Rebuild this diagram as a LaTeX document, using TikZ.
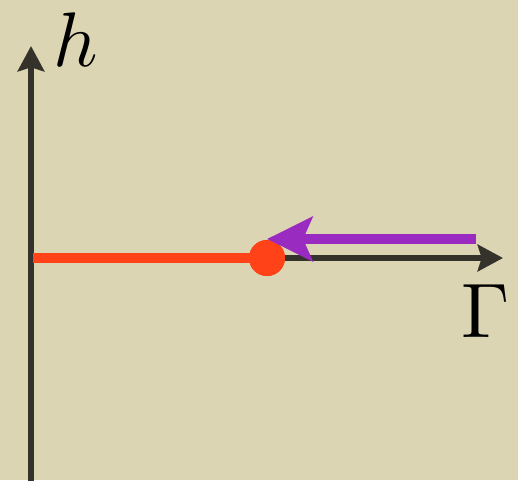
\documentclass[tikz,border=0pt]{standalone}
\usetikzlibrary{arrows.meta}
\definecolor{parchment}{HTML}{DCD5B3}
\definecolor{axisgrey}{HTML}{35322B}
\definecolor{flowred}{HTML}{FF4217}
\definecolor{flowpurple}{HTML}{9A2BC1}

\begin{document}
\begin{tikzpicture}[x=0.75pt, y=-0.75pt,
    axis/.style={draw=axisgrey, line width=3.8pt,
      -{Stealth[length=19pt, width=20pt, inset=3pt]}},
    phase/.style={draw=flowred, line width=7.5pt},
    flow/.style={draw=flowpurple, line width=7.5pt,
      -{Stealth[length=34pt, width=33pt, inset=7pt]}},
    fixpt/.style={circle, fill=flowred, minimum size=27pt, inner sep=0pt},
    axlabel/.style={inner sep=0pt, scale=5.8},
  ]

  % background and bounding box
  \fill[parchment] (0,0) rectangle (518,480);
  \useasboundingbox (0,0) rectangle (518,480);

  % axes
  \coordinate (origin) at (31,258);
  \coordinate (hbot) at (31,482);
  \coordinate (htop) at (31,46);
  \coordinate (gend) at (503,258);
  \draw[axis] (hbot) -- (htop);
  \draw[axis] (origin) -- (gend);

  % ordered phase and fixed point
  \coordinate (redstart) at (33,258);
  \node[fixpt] (crit) at (267,258) {};
  \draw[phase] (redstart) -- (crit.center);
  \node[fixpt] at (crit) {};

  % RG flow towards the fixed point
  \coordinate (flowstart) at (476,239);
  \coordinate (flowend) at (267,239);
  \draw[flow] (flowstart) -- (flowend);

  % labels
  \node[axlabel] (hlabel) at (76,40) {$h$};
  \node[axlabel] (glabel) at (486,311) {$\Gamma$};

\end{tikzpicture}
\end{document}
